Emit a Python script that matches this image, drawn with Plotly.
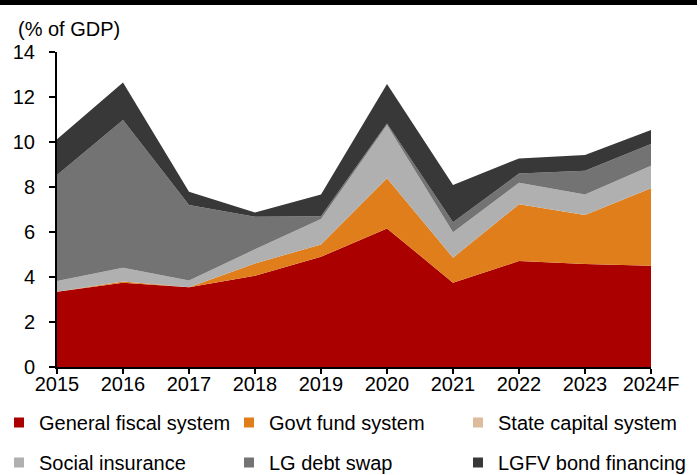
import plotly.graph_objects as go

years = ["2015", "2016", "2017", "2018", "2019", "2020", "2021", "2022", "2023", "2024F"]
general_fiscal = [3.35, 3.75, 3.54, 4.06, 4.90, 6.16, 3.75, 4.71, 4.58, 4.50]
govt_fund = [0.00, 0.05, 0.00, 0.54, 0.55, 2.23, 1.11, 2.52, 2.18, 3.44]
state_capital = [0.00, 0.00, 0.00, 0.00, 0.00, 0.00, 0.00, 0.00, 0.00, 0.00]
social_insurance = [0.47, 0.61, 0.30, 0.63, 1.13, 2.37, 1.13, 0.96, 0.91, 1.01]
lg_debt_swap = [4.71, 6.57, 3.36, 1.45, 0.12, 0.06, 0.44, 0.41, 1.05, 0.96]
lgfv_bond = [1.59, 1.66, 0.59, 0.19, 0.97, 1.76, 1.66, 0.67, 0.70, 0.62]

# (name, values, colour, legend column)
series = [
    ("General fiscal system", general_fiscal, "#AA0000", "legend"),
    ("Govt fund system", govt_fund, "#E07E1B", "legend2"),
    ("State capital system", state_capital, "#DDBB9C", "legend3"),
    ("Social insurance", social_insurance, "#B0B0B0", "legend"),
    ("LG debt swap", lg_debt_swap, "#737373", "legend2"),
    ("LGFV bond financing", lgfv_bond, "#383838", "legend3"),
]

FONT = "Liberation Sans, Arial, sans-serif"
FS = 20

fig = go.Figure()
for name, vals, color, lg in series:
    fig.add_trace(go.Scatter(
        x=years, y=vals, name=name, stackgroup="one", mode="lines",
        line=dict(width=0, color=color), fillcolor=color,
        showlegend=False, legendgroup=name, hoverinfo="x+y+name",
    ))
for name, vals, color, lg in series:
    fig.add_trace(go.Scatter(
        x=[None], y=[None], name=name, mode="markers",
        marker=dict(symbol="square", size=10, color=color),
        legendgroup=name, legend=lg, showlegend=True,
    ))

# pixel -> paper helpers (plot area: x 57..651, y 52..367)
def px(x):
    return (x - 57) / 594.0

def py(y):
    return (367 - y) / 315.0

legend_common = dict(
    orientation="v", tracegroupgap=11,
    font=dict(family=FONT, size=FS, color="#000000"),
    bgcolor="rgba(0,0,0,0)", borderwidth=0, traceorder="grouped",
    xanchor="left", yanchor="top", itemclick=False, itemdoubleclick=False,
)

fig.update_layout(
    width=700, height=475,
    margin=dict(l=57, r=49, t=52, b=108, autoexpand=False),
    paper_bgcolor="white", plot_bgcolor="white",
    font=dict(family=FONT, size=FS, color="#000000"),
    legend=dict(x=px(-1), y=py(403), **legend_common),
    legend2=dict(x=px(229), y=py(403), **legend_common),
    legend3=dict(x=px(458), y=py(403), **legend_common),
    xaxis=dict(
        type="category", range=[0, 9], showgrid=False, zeroline=False,
        showline=True, linecolor="#000000", linewidth=2,
        ticks="outside", ticklen=5, tickwidth=2, tickcolor="#000000",
        ticklabelstandoff=-7,
        tickfont=dict(family=FONT, size=FS, color="#000000"),
    ),
    yaxis=dict(
        range=[0, 14], dtick=2, showgrid=False, zeroline=False,
        showline=True, linecolor="#000000", linewidth=2,
        ticks="outside", ticklen=6, tickwidth=2, tickcolor="#000000",
        ticklabelstandoff=10,
        tickfont=dict(family=FONT, size=FS, color="#000000"),
    ),
    annotations=[dict(
        text="(% of GDP)", xref="paper", yref="paper", x=px(16), y=py(29),
        xanchor="left", yanchor="middle", showarrow=False,
        font=dict(family=FONT, size=FS, color="#000000"),
    )],
    shapes=[dict(
        type="line", xref="paper", yref="paper", x0=px(0), x1=px(697),
        y0=py(2.5), y1=py(2.5), line=dict(color="#000000", width=5),
    )],
)

fig.write_html("out.html")
